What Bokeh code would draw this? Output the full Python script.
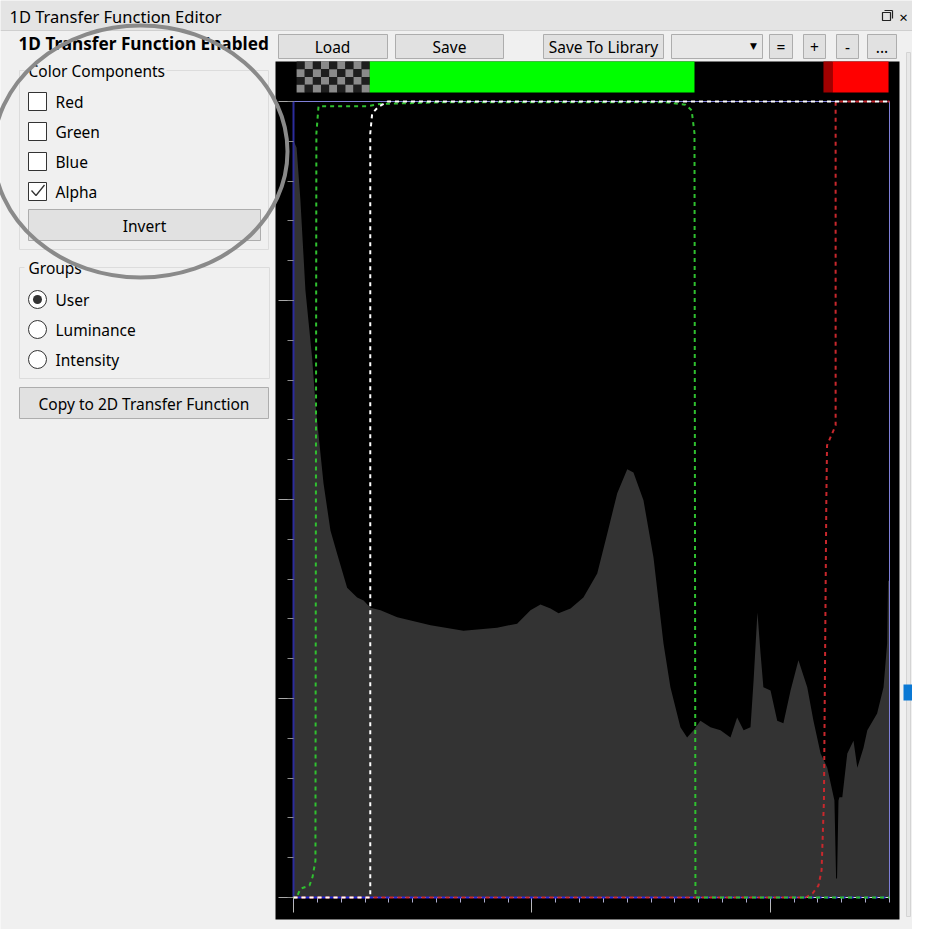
from bokeh.plotting import figure
from bokeh.models import Range1d, LinearAxis, SingleIntervalTicker, CustomJSTickFormatter
from bokeh.core.properties import value
from bokeh.embed import file_html
from bokeh.resources import INLINE

# ---------------- data ----------------
# histogram (intensity 0..250, normalised frequency 0..1)
hist_x = [0, 1.3, 2.9, 5.0, 7.8, 9.2, 9.9, 12.6, 15.5, 18.3,
          22.5, 26.7, 29.4, 32.3, 36.5, 43.5, 57.5, 71.3, 85.4, 93.8,
          99.4, 103.6, 107.8, 111.2, 116.2, 121.6, 127.4, 131.6, 135.8, 140.0,
          142.6, 146.8, 151.0, 155.2, 158.1, 162.3, 165.1, 167.8, 170.7, 174.9,
          179.1, 183.3, 186.1, 188.8, 191.7, 193.0, 194.6, 195.9, 197.1, 200.1,
          202.9, 205.5, 208.5, 211.8, 215.5, 218.1, 221.1, 223.9, 226.0, 226.9,
          227.6, 228.0, 228.6, 229.0, 230.2, 232.3, 234.9, 236.5, 239.1, 240.7,
          244.8, 247.5, 249.0, 249.4, 250.0]
hist_y = [0.951, 0.942, 0.876, 0.763, 0.678, 0.621, 0.599, 0.520, 0.461, 0.432,
          0.389, 0.377, 0.373, 0.364, 0.361, 0.352, 0.342, 0.335, 0.339, 0.344,
          0.361, 0.368, 0.363, 0.357, 0.363, 0.377, 0.407, 0.457, 0.508, 0.538,
          0.534, 0.499, 0.427, 0.319, 0.264, 0.214, 0.201, 0.210, 0.222, 0.214,
          0.210, 0.201, 0.226, 0.210, 0.214, 0.273, 0.358, 0.307, 0.264, 0.260,
          0.222, 0.219, 0.260, 0.298, 0.264, 0.222, 0.181, 0.163, 0.134, 0.122,
          0.024, 0.024, 0.122, 0.126, 0.126, 0.181, 0.197, 0.163, 0.188, 0.210,
          0.231, 0.264, 0.319, 0.398, 0.398]

# transfer function curves
alpha_x = [0, 32.2, 32.2, 33.0, 35.5, 39.5, 250]
alpha_y = [0, 0, 0.96, 0.985, 0.993, 1.0, 1.0]
green_x = [0, 1.3, 2.9, 6.7, 8.0, 9.2, 9.6, 10.5, 31.0, 36.5, 62.5, 156.0, 164.4, 167.0, 168.2, 168.6, 250]
green_y = [0, 0, 0.011, 0.015, 0.026, 0.046, 0.96, 0.994, 0.994, 0.997, 0.999, 0.999, 0.996, 0.989, 0.96, 0, 0]
red_x = [0, 214.8, 217.7, 220.2, 221.5, 222.5, 223.5, 223.8, 227.4, 227.4, 250]
red_y = [0, 0, 0.005, 0.015, 0.034, 0.122, 0.499, 0.568, 0.593, 1.0, 1.0]
blue_x = [0, 250]
blue_y = [0, 0]

# colour strip of the transfer function
strip_left = [32.0, 222.3, 226.1]
strip_right = [168.2, 226.1, 249.6]
strip_colors = ["#00ff00", "#a00000", "#ff0000"]
checker_range = [1.3, 32.0]

# ---------------- page / figure ----------------
W, H = 912, 929
X0, Y0 = 0, 0
FONT = "Noto Sans"
FS = "15.5px"

p = figure(width=W, height=H, output_backend="svg", toolbar_location=None,
           x_range=Range1d(X0, X0 + W), y_range=Range1d(Y0 + H, Y0),
           x_axis_location=None, y_axis_location=None, min_border=0,
           background_fill_color="#f0f0f0", border_fill_color="#f0f0f0",
           outline_line_color=None)
p.grid.visible = False

# plot area in page pixels
PX_L, PX_R, PY_B, PY_T = 293, 889, 897, 101
sx = (PX_R - PX_L) / 250.0
sy = (PY_B - PY_T) / 1.0
p.extra_x_ranges = {"hx": Range1d((X0 - PX_L) / sx, (X0 + W - PX_L) / sx)}
p.extra_y_ranges = {"hy": Range1d((PY_B - (Y0 + H)) / sy, (PY_B - Y0) / sy)}
HX = dict(x_range_name="hx", y_range_name="hy")

# ---------------- UI chrome ----------------
p.quad(left=[0], right=[928], top=[0], bottom=[30], fill_color="#e4e4e4", line_color=None)
p.segment(x0=[0], x1=[928], y0=[30], y1=[30], line_color="#cfcfcf", line_width=1)
p.quad(left=[882], right=[890], top=[12], bottom=[20], fill_color=None, line_color="#222", line_width=1.2)
p.segment(x0=[884, 892], x1=[892, 892], y0=[10, 10], y1=[10, 18], line_color="#222", line_width=1.2)

def texts(xs, ys, ts, size=FS, style="normal", align="left", color="#000000", font=FONT):
    p.text(x=xs, y=ys, text=ts, text_font=value(font), text_font_size=size,
           text_font_style=style, text_align=align, text_baseline="middle", text_color=color)

texts([9], [16], ["1D Transfer Function Editor"], size="16.5px")
texts([903], [16], ["×"], size="15px", align="center")
texts([18], [43], ["1D Transfer Function Enabled"], size="17.2px", style="bold")

# top buttons
bl = [278, 395, 543, 769, 803, 836, 867]
br = [387, 503, 663, 792, 825, 858, 896]
p.quad(left=bl, right=br, top=[34] * 7, bottom=[58] * 7, fill_color="#e1e1e1", line_color="#adadad")
p.quad(left=[671], right=[762], top=[34], bottom=[58], fill_color="#e8e8e8", line_color="#adadad")
texts([332, 449, 603, 780.5, 814, 847, 881.5], [46] * 7,
      ["Load", "Save", "Save To Library", "=", "+", "-", "..."], align="center")
texts([753], [45], ["▼"], size="9px", align="center", font="DejaVu Sans")

# group boxes
p.quad(left=[19, 19], right=[268, 269], top=[70, 267], bottom=[249, 378],
       fill_color=None, line_color="#dcdcdc")
p.quad(left=[24, 24], right=[166, 84], top=[61, 258], bottom=[79, 276],
       fill_color="#f0f0f0", line_color=None)
texts([28, 28], [70, 267], ["Color Components", "Groups"])

# checkboxes
cy = [101, 131, 161, 191]
p.quad(left=[28] * 4, right=[46] * 4, top=[c - 9 for c in cy], bottom=[c + 9 for c in cy],
       fill_color="#ffffff", line_color="#333333")
p.line(x=[31, 35.5, 44], y=[190, 195, 184.5], line_color="#333333", line_width=1.3)
texts([55] * 4, cy, ["Red", "Green", "Blue", "Alpha"])

p.quad(left=[28], right=[260], top=[209], bottom=[240], fill_color="#e1e1e1", line_color="#adadad")
texts([144], [225], ["Invert"], align="center")

# radios
ry = [299, 329, 359]
p.circle(x=[37] * 3, y=ry, radius=9, fill_color="#ffffff", line_color="#333333")
p.circle(x=[37], y=[299], radius=4.5, fill_color="#333333", line_color=None)
texts([55] * 3, ry, ["User", "Luminance", "Intensity"])

p.quad(left=[19], right=[268], top=[387], bottom=[418], fill_color="#e1e1e1", line_color="#adadad")
texts([143.5], [403], ["Copy to 2D Transfer Function"], align="center")

# scrollbar on the right
p.quad(left=[906], right=[910], top=[52], bottom=[916], fill_color="#e8e8e8", line_color="#d4d4d4")
p.quad(left=[903], right=[912], top=[684], bottom=[700], fill_color="#0a78d4", line_color=None)

# ---------------- transfer function view ----------------
p.quad(left=[275], right=[899], top=[61], bottom=[919], fill_color="#000000", line_color=None)

# checkerboard (alpha) + colour strip
n_col, n_row = 9, 4
cw = (checker_range[1] - checker_range[0]) / n_col
ch = (92 - 61) / n_row
ck_l, ck_r, ck_t, ck_b, ck_c = [], [], [], [], []
for r in range(n_row):
    for c in range(n_col):
        ck_l.append(checker_range[0] + c * cw)
        ck_r.append(checker_range[0] + (c + 1) * cw)
        ck_t.append(61 + r * ch)
        ck_b.append(61 + (r + 1) * ch)
        ck_c.append("#1e1e1e" if (r + c) % 2 == 0 else "#8a8a8a")
p.quad(left=ck_l, right=ck_r, top=ck_t, bottom=ck_b, fill_color=ck_c, line_color=None, x_range_name="hx")
p.quad(left=strip_left, right=strip_right, top=[61] * 3, bottom=[92] * 3,
       fill_color=strip_colors, line_color=None, x_range_name="hx")

# histogram
p.varea(x=hist_x, y1=0, y2=hist_y, fill_color="#333333", **HX)

# plot border
p.quad(left=[0], right=[250], bottom=[0], top=[1], fill_color=None,
       line_color="#8080d8", line_width=1, **HX)

# axes (fixed inside the view)
yax = LinearAxis(fixed_location=0, bounds=(0, 1),
                 ticker=SingleIntervalTicker(interval=0.25, num_minor_ticks=5),
                 formatter=CustomJSTickFormatter(code="return ''"),
                 axis_line_color="#2c2c9c", axis_line_width=2,
                 major_tick_line_color="#a8a8a8", minor_tick_line_color="#8c8c8c",
                 major_tick_out=15, major_tick_in=0, minor_tick_out=6, minor_tick_in=0,
                 major_label_standoff=0, **HX)
p.add_layout(yax, "left")
xax = LinearAxis(fixed_location=0, bounds=(0, 250),
                 ticker=SingleIntervalTicker(interval=100, num_minor_ticks=10),
                 formatter=CustomJSTickFormatter(code="return ''"),
                 axis_line_color="#d8d8e8", axis_line_width=1,
                 major_tick_line_color="#b8b8b8", minor_tick_line_color="#b0b0d0",
                 major_tick_out=15, major_tick_in=0, minor_tick_out=5, minor_tick_in=0,
                 major_label_standoff=0, **HX)
p.add_layout(xax, "below")

# transfer-function curves
p.line(blue_x, blue_y, line_color="#2828d8", line_width=2, line_dash="4 4", line_dash_offset=4, level="overlay", **HX)
p.line(red_x, red_y, line_color="#c8282d", line_width=2, line_dash="4 4", line_dash_offset=0, level="overlay", **HX)
p.line(green_x, green_y, line_color="#30c030", line_width=2, line_dash="4 4", line_dash_offset=2, level="overlay", **HX)
p.line(alpha_x, alpha_y, line_color="#ffffff", line_width=2, line_dash="4 4", line_dash_offset=0, level="overlay", **HX)

# annotation circle
p.ellipse(x=[140], y=[151], width=[294], height=[252], fill_color=None,
          line_color="#8a8a8a", line_width=4, level="overlay")

open("out.html", "w").write(file_html(p, INLINE))
